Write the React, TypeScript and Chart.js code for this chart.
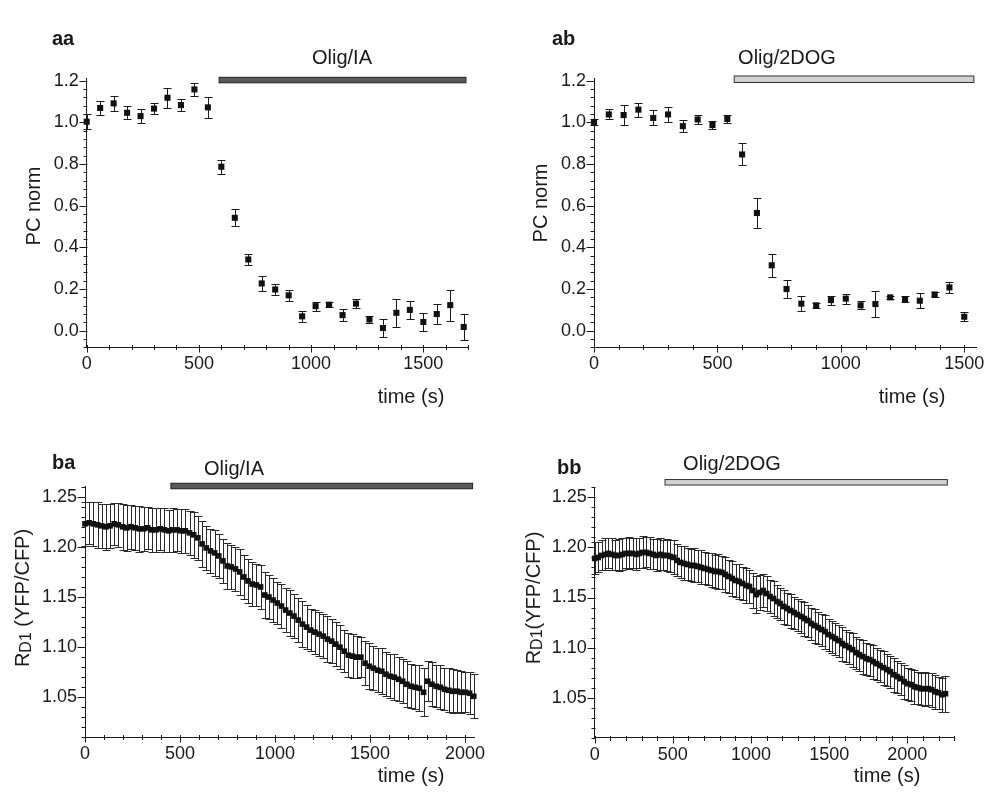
import React, { useEffect, useRef } from 'react';
import { Chart, registerables } from 'chart.js';

Chart.register(...registerables);

const FONT = '"Liberation Sans", Arial, Helvetica, sans-serif';
const INK = '#1a1a1a';

// ---------- Panel aa: PC norm, Olig/IA ----------
const AA_TIME = [0, 60, 120, 180, 240, 300, 360, 420, 480, 540, 600, 660, 720, 780, 840, 900, 960, 1020, 1080, 1140, 1200, 1260, 1320, 1380, 1440, 1500, 1560, 1620, 1680];
const AA_PC = [1.003, 1.069, 1.091, 1.046, 1.030, 1.066, 1.118, 1.083, 1.158, 1.072, 0.787, 0.542, 0.342, 0.227, 0.198, 0.170, 0.069, 0.118, 0.125, 0.075, 0.130, 0.054, 0.013, 0.086, 0.100, 0.042, 0.080, 0.123, 0.018];
const AA_ERR = [0.035, 0.032, 0.035, 0.032, 0.032, 0.028, 0.048, 0.030, 0.030, 0.050, 0.034, 0.040, 0.027, 0.035, 0.025, 0.027, 0.028, 0.021, 0.011, 0.028, 0.021, 0.016, 0.043, 0.067, 0.044, 0.042, 0.050, 0.074, 0.064];

// ---------- Panel ab: PC norm, Olig/2DOG ----------
const AB_TIME = [0, 60, 120, 180, 240, 300, 360, 420, 480, 540, 600, 660, 720, 780, 840, 900, 960, 1020, 1080, 1140, 1200, 1260, 1320, 1380, 1440, 1500];
const AB_PC = [1.002, 1.038, 1.035, 1.061, 1.021, 1.038, 0.982, 1.014, 0.987, 1.016, 0.846, 0.565, 0.314, 0.200, 0.130, 0.122, 0.147, 0.154, 0.122, 0.128, 0.160, 0.152, 0.144, 0.174, 0.208, 0.067];
const AB_ERR = [0.015, 0.024, 0.048, 0.034, 0.036, 0.038, 0.030, 0.021, 0.020, 0.018, 0.053, 0.074, 0.055, 0.042, 0.037, 0.012, 0.022, 0.024, 0.020, 0.061, 0.009, 0.013, 0.036, 0.010, 0.025, 0.021];

// ---------- Panel ba: RD1 ratio, Olig/IA ----------
const BA_TIME = [
  0, 22, 44, 66, 88, 110, 132, 154, 176, 198,
  220, 242, 264, 286, 308, 330, 352, 374, 396, 418,
  440, 462, 484, 506, 528, 550, 572, 594, 616, 638,
  660, 682, 704, 726, 748, 770, 792, 814, 836, 858,
  880, 902, 924, 946, 968, 990, 1012, 1034, 1056, 1078,
  1100, 1122, 1144, 1166, 1188, 1210, 1232, 1254, 1276, 1298,
  1320, 1342, 1364, 1386, 1408, 1430, 1452, 1474, 1496, 1518,
  1540, 1562, 1584, 1606, 1628, 1650, 1672, 1694, 1716, 1738,
  1760, 1782, 1804, 1826, 1848, 1870, 1892, 1914, 1936, 1958,
  1980, 2002, 2024, 2046,
];
const BA_RATIO = [
  1.223, 1.224, 1.223, 1.222, 1.221, 1.220, 1.221, 1.223, 1.222, 1.220,
  1.219, 1.220, 1.219, 1.218, 1.218, 1.219, 1.217, 1.217, 1.218, 1.217,
  1.216, 1.217, 1.217, 1.216, 1.216, 1.214, 1.212, 1.209, 1.203, 1.199,
  1.196, 1.194, 1.191, 1.186, 1.181, 1.180, 1.178, 1.175, 1.170, 1.166,
  1.163, 1.162, 1.160, 1.152, 1.150, 1.147, 1.144, 1.141, 1.137, 1.134,
  1.131, 1.127, 1.123, 1.120, 1.117, 1.115, 1.113, 1.111, 1.108, 1.106,
  1.103, 1.100, 1.096, 1.092, 1.091, 1.090, 1.090, 1.084, 1.081, 1.079,
  1.077, 1.076, 1.073, 1.071, 1.070, 1.068, 1.066, 1.063, 1.061, 1.060,
  1.059, 1.055, 1.066, 1.063, 1.061, 1.060, 1.058, 1.057, 1.056, 1.056,
  1.055, 1.055, 1.054, 1.051,
];
const BA_ERR = [
  0.022, 0.021, 0.022, 0.023, 0.022, 0.023, 0.022, 0.021, 0.022, 0.023,
  0.023, 0.022, 0.022, 0.023, 0.022, 0.021, 0.022, 0.022, 0.021, 0.022,
  0.021, 0.022, 0.021, 0.022, 0.022, 0.022, 0.023, 0.022, 0.023, 0.022,
  0.022, 0.023, 0.022, 0.022, 0.023, 0.022, 0.022, 0.023, 0.022, 0.022,
  0.022, 0.021, 0.022, 0.023, 0.022, 0.022, 0.021, 0.022, 0.022, 0.023,
  0.022, 0.022, 0.023, 0.022, 0.021, 0.022, 0.022, 0.022, 0.023, 0.022,
  0.022, 0.022, 0.021, 0.022, 0.022, 0.021, 0.020, 0.022, 0.023, 0.022,
  0.022, 0.023, 0.022, 0.022, 0.023, 0.022, 0.022, 0.023, 0.022, 0.022,
  0.023, 0.024, 0.020, 0.022, 0.021, 0.022, 0.021, 0.022, 0.022, 0.021,
  0.021, 0.020, 0.021, 0.022,
];

// ---------- Panel bb: RD1 ratio, Olig/2DOG ----------
const BB_TIME = [
  0, 22, 44, 66, 88, 110, 132, 154, 176, 198,
  220, 242, 264, 286, 308, 330, 352, 374, 396, 418,
  440, 462, 484, 506, 528, 550, 572, 594, 616, 638,
  660, 682, 704, 726, 748, 770, 792, 814, 836, 858,
  880, 902, 924, 946, 968, 990, 1012, 1034, 1056, 1078,
  1100, 1122, 1144, 1166, 1188, 1210, 1232, 1254, 1276, 1298,
  1320, 1342, 1364, 1386, 1408, 1430, 1452, 1474, 1496, 1518,
  1540, 1562, 1584, 1606, 1628, 1650, 1672, 1694, 1716, 1738,
  1760, 1782, 1804, 1826, 1848, 1870, 1892, 1914, 1936, 1958,
  1980, 2002, 2024, 2046, 2068, 2090, 2112, 2134, 2156, 2178,
  2200, 2222, 2244,
];
const BB_RATIO = [
  1.189, 1.190, 1.192, 1.193, 1.194, 1.193, 1.192, 1.192, 1.193, 1.194,
  1.194, 1.194, 1.193, 1.194, 1.195, 1.195, 1.194, 1.193, 1.192, 1.193,
  1.192, 1.192, 1.191, 1.190, 1.187, 1.185, 1.184, 1.183, 1.182, 1.182,
  1.181, 1.180, 1.179, 1.178, 1.177, 1.176, 1.176, 1.175, 1.173, 1.171,
  1.169, 1.167, 1.166, 1.164, 1.162, 1.161, 1.157, 1.153, 1.155, 1.157,
  1.154, 1.151, 1.149, 1.146, 1.144, 1.141, 1.139, 1.137, 1.135, 1.133,
  1.131, 1.129, 1.127, 1.124, 1.122, 1.120, 1.118, 1.116, 1.113, 1.111,
  1.109, 1.107, 1.104, 1.102, 1.100, 1.098, 1.095, 1.093, 1.091, 1.089,
  1.088, 1.086, 1.084, 1.082, 1.080, 1.078, 1.076, 1.073, 1.071, 1.069,
  1.066, 1.064, 1.063, 1.061, 1.060, 1.059, 1.059, 1.059, 1.058, 1.056,
  1.055, 1.053, 1.054,
];
const BB_ERR = [
  0.016, 0.015, 0.015, 0.016, 0.015, 0.016, 0.015, 0.016, 0.016, 0.015,
  0.016, 0.015, 0.016, 0.015, 0.016, 0.015, 0.016, 0.015, 0.016, 0.016,
  0.015, 0.016, 0.016, 0.017, 0.016, 0.016, 0.017, 0.016, 0.016, 0.017,
  0.016, 0.017, 0.016, 0.016, 0.017, 0.016, 0.017, 0.016, 0.017, 0.016,
  0.017, 0.016, 0.017, 0.016, 0.017, 0.016, 0.017, 0.018, 0.017, 0.016,
  0.017, 0.016, 0.017, 0.016, 0.016, 0.017, 0.016, 0.017, 0.016, 0.016,
  0.016, 0.017, 0.016, 0.016, 0.017, 0.016, 0.016, 0.017, 0.016, 0.016,
  0.016, 0.016, 0.017, 0.016, 0.016, 0.017, 0.016, 0.016, 0.017, 0.016,
  0.016, 0.017, 0.016, 0.016, 0.017, 0.016, 0.016, 0.017, 0.016, 0.016,
  0.017, 0.016, 0.016, 0.017, 0.016, 0.016, 0.017, 0.016, 0.017, 0.017,
  0.016, 0.017, 0.018,
];

// ---------- Tick definitions ----------
const X_MAJOR_LABELS = [0, 500, 1000, 1500, 2000];
const X_MINOR_STEP = 100;
const TOP_Y_MIN = -0.08;
const TOP_Y_MAX = 1.21;
const TOP_Y_MAJOR_STEP = 0.2;
const TOP_Y_MINOR_STEP = 0.04;
const BOT_Y_MIN = 1.01;
const BOT_Y_MAX = 1.26;
const BOT_Y_MAJOR_STEP = 0.05;
const BOT_Y_MINOR_STEP = 0.01;

function range(from: number, to: number, step: number): number[] {
  const out: number[] = [];
  const n = Math.round((to - from) / step);
  for (let i = 0; i <= n; i++) out.push(Math.round((from + i * step) * 1000) / 1000);
  return out;
}
function isMult(v: number, step: number) {
  const q = v / step;
  return Math.abs(q - Math.round(q)) < 1e-6;
}

type TextPart = { text: string; size: number; dy: number };
type PanelCfg = {
  box: { left: number; top: number; width: number; height: number };
  area: { l: number; t: number; r: number; b: number };
  xMax: number;
  xTickMax: number;
  yMin: number;
  yMax: number;
  yMinorStep: number;
  yMajorStep: number;
  yTickTop: number;
  yDecimals: number;
  times: number[];
  values: number[];
  errors: number[];
  pointRadius: number;
  capHalf: number;
  errColor: string;
  bar: { from: number; to: number; y: number; h: number; fill: string; stroke: string };
  barLabel: { text: string; cx: number; cy: number };
  letter: { text: string; x: number; y: number };
  xTitle: { text: string; cx: number; cy: number };
  yTitle: { parts: TextPart[]; cx: number; cy: number };
};

const PANELS: PanelCfg[] = [
  {
    box: { left: 0, top: 0, width: 497, height: 420 },
    area: { l: 86.7, t: 78.6, r: 468.2, b: 347.4 },
    xMax: 1700, xTickMax: 1700,
    yMin: TOP_Y_MIN, yMax: TOP_Y_MAX, yMinorStep: TOP_Y_MINOR_STEP, yMajorStep: TOP_Y_MAJOR_STEP, yTickTop: 1.2, yDecimals: 1,
    times: AA_TIME, values: AA_PC, errors: AA_ERR, pointRadius: 4.3, capHalf: 4, errColor: '#1a1a1a',
    bar: { from: 590, to: 1690, y: 1.203, h: 5.5, fill: '#5a5a5a', stroke: '#222' },
    barLabel: { text: 'Olig/IA', cx: 342, cy: 58 },
    letter: { text: 'aa', x: 52, y: 45 },
    xTitle: { text: 'time (s)', cx: 411, cy: 397 },
    yTitle: { parts: [{ text: 'PC norm', size: 20, dy: 0 }], cx: 34, cy: 206 },
  },
  {
    box: { left: 497, top: 0, width: 497, height: 420 },
    area: { l: 594, t: 78.6, r: 976.6, b: 347.4 },
    xMax: 1550, xTickMax: 1500,
    yMin: TOP_Y_MIN, yMax: TOP_Y_MAX, yMinorStep: TOP_Y_MINOR_STEP, yMajorStep: TOP_Y_MAJOR_STEP, yTickTop: 1.2, yDecimals: 1,
    times: AB_TIME, values: AB_PC, errors: AB_ERR, pointRadius: 4.3, capHalf: 4, errColor: '#1a1a1a',
    bar: { from: 568, to: 1539, y: 1.207, h: 6.5, fill: '#d2d2d2', stroke: '#333' },
    barLabel: { text: 'Olig/2DOG', cx: 787, cy: 58 },
    letter: { text: 'ab', x: 552, y: 45 },
    xTitle: { text: 'time (s)', cx: 912, cy: 397 },
    yTitle: { parts: [{ text: 'PC norm', size: 20, dy: 0 }], cx: 541, cy: 203 },
  },
  {
    box: { left: 0, top: 420, width: 497, height: 372 },
    area: { l: 85, t: 486.7, r: 474.5, b: 737.4 },
    xMax: 2050, xTickMax: 2000,
    yMin: BOT_Y_MIN, yMax: BOT_Y_MAX, yMinorStep: BOT_Y_MINOR_STEP, yMajorStep: BOT_Y_MAJOR_STEP, yTickTop: 1.26, yDecimals: 2,
    times: BA_TIME, values: BA_RATIO, errors: BA_ERR, pointRadius: 4, capHalf: 4, errColor: '#2a2a2a',
    bar: { from: 452, to: 2040, y: 1.2607, h: 5.5, fill: '#5a5a5a', stroke: '#222' },
    barLabel: { text: 'Olig/IA', cx: 234, cy: 469 },
    letter: { text: 'ba', x: 52, y: 469 },
    xTitle: { text: 'time (s)', cx: 411, cy: 776 },
    yTitle: {
      parts: [
        { text: 'R', size: 20, dy: 0 },
        { text: 'D1', size: 16, dy: 4 },
        { text: ' (YFP/CFP)', size: 20, dy: 0 },
      ],
      cx: 23, cy: 598,
    },
  },
  {
    box: { left: 497, top: 420, width: 497, height: 372 },
    area: { l: 594.7, t: 487.3, r: 954.2, b: 737.8 },
    xMax: 2300, xTickMax: 2300,
    yMin: BOT_Y_MIN, yMax: BOT_Y_MAX, yMinorStep: BOT_Y_MINOR_STEP, yMajorStep: BOT_Y_MAJOR_STEP, yTickTop: 1.26, yDecimals: 2,
    times: BB_TIME, values: BB_RATIO, errors: BB_ERR, pointRadius: 4, capHalf: 4, errColor: '#2a2a2a',
    bar: { from: 450, to: 2256, y: 1.265, h: 5.5, fill: '#d2d2d2', stroke: '#333' },
    barLabel: { text: 'Olig/2DOG', cx: 732, cy: 464 },
    letter: { text: 'bb', x: 557, y: 474 },
    xTitle: { text: 'time (s)', cx: 887, cy: 776 },
    yTitle: {
      parts: [
        { text: 'R', size: 20, dy: 0 },
        { text: 'D1', size: 16, dy: 4 },
        { text: '(YFP/CFP)', size: 20, dy: 0 },
      ],
      cx: 534, cy: 598,
    },
  },
];

const X_AXIS_H = 30;
const TICK_FONT = 18;

function buildChart(canvas: HTMLCanvasElement, cfg: PanelCfg) {
  const { box, area } = cfg;
  const ox = box.left;
  const oy = box.top;
  const xTicks = range(0, cfg.xTickMax, X_MINOR_STEP);
  const yTicks = range(cfg.yMin, cfg.yTickTop, cfg.yMinorStep);
  const points = cfg.times.map((t, i) => ({ x: t, y: cfg.values[i] }));

  const errorBars = {
    id: 'errorBars',
    beforeDatasetsDraw(chart: any) {
      const { ctx } = chart;
      const xs = chart.scales.x;
      const ys = chart.scales.y;
      ctx.save();
      ctx.strokeStyle = cfg.errColor;
      ctx.lineWidth = 1;
      ctx.beginPath();
      points.forEach((p, i) => {
        const e = cfg.errors[i];
        const x = Math.round(xs.getPixelForValue(p.x)) + 0.5;
        const y1 = Math.round(ys.getPixelForValue(p.y + e)) + 0.5;
        const y2 = Math.round(ys.getPixelForValue(p.y - e)) + 0.5;
        ctx.moveTo(x, y1);
        ctx.lineTo(x, y2);
        ctx.moveTo(x - cfg.capHalf, y1);
        ctx.lineTo(x + cfg.capHalf, y1);
        ctx.moveTo(x - cfg.capHalf, y2);
        ctx.lineTo(x + cfg.capHalf, y2);
      });
      ctx.stroke();
      ctx.restore();
    },
  };

  const decorations = {
    id: 'decorations',
    afterDraw(chart: any) {
      const { ctx, chartArea } = chart;
      const xs = chart.scales.x;
      const ys = chart.scales.y;
      ctx.save();
      // tick marks
      ctx.strokeStyle = INK;
      ctx.lineWidth = 1;
      ctx.beginPath();
      const bottom = Math.round(chartArea.bottom) + 0.5;
      const left = Math.round(chartArea.left) + 0.5;
      xs.ticks.forEach((t: any) => {
        const px = Math.round(xs.getPixelForValue(t.value)) + 0.5;
        const major = isMult(t.value, 500);
        ctx.moveTo(px, bottom - 2.5);
        ctx.lineTo(px, bottom + (major ? 5 : 2.5));
      });
      ys.ticks.forEach((t: any) => {
        const py = Math.round(ys.getPixelForValue(t.value)) + 0.5;
        const major = isMult(t.value, cfg.yMajorStep);
        ctx.moveTo(left - (major ? 8 : 4), py);
        ctx.lineTo(left, py);
      });
      ctx.stroke();

      // treatment bar
      const b = cfg.bar;
      const bx0 = xs.getPixelForValue(b.from);
      const bx1 = xs.getPixelForValue(b.to);
      const by = ys.getPixelForValue(b.y);
      ctx.fillStyle = b.fill;
      ctx.fillRect(bx0, by - b.h / 2, bx1 - bx0, b.h);
      ctx.strokeStyle = b.stroke;
      ctx.lineWidth = 1;
      ctx.strokeRect(bx0, by - b.h / 2, bx1 - bx0, b.h);

      ctx.fillStyle = INK;
      ctx.textBaseline = 'middle';
      // bar label
      ctx.font = `20px ${FONT}`;
      ctx.textAlign = 'center';
      ctx.fillText(cfg.barLabel.text, cfg.barLabel.cx - ox, cfg.barLabel.cy - oy);
      // x title
      ctx.fillText(cfg.xTitle.text, cfg.xTitle.cx - ox, cfg.xTitle.cy - oy);
      // panel letter
      ctx.font = `bold 20px ${FONT}`;
      ctx.textAlign = 'left';
      ctx.textBaseline = 'alphabetic';
      ctx.fillText(cfg.letter.text, cfg.letter.x - ox, cfg.letter.y - oy);
      // y title (rotated, with subscript)
      ctx.translate(cfg.yTitle.cx - ox, cfg.yTitle.cy - oy);
      ctx.rotate(-Math.PI / 2);
      ctx.textBaseline = 'middle';
      ctx.textAlign = 'left';
      let total = 0;
      const widths = cfg.yTitle.parts.map((p) => {
        ctx.font = `${p.size}px ${FONT}`;
        const w = ctx.measureText(p.text).width;
        total += w;
        return w;
      });
      let cx = -total / 2;
      cfg.yTitle.parts.forEach((p, i) => {
        ctx.font = `${p.size}px ${FONT}`;
        ctx.fillText(p.text, cx, p.dy);
        cx += widths[i];
      });
      ctx.restore();
    },
  };

  return new Chart(canvas, {
    type: 'scatter',
    data: {
      datasets: [
        {
          data: points,
          pointStyle: 'rect',
          pointRadius: cfg.pointRadius,
          pointBackgroundColor: '#111',
          pointBorderColor: '#111',
          pointBorderWidth: 0,
          showLine: false,
          clip: false as any,
        },
      ],
    },
    options: {
      responsive: false,
      animation: false,
      events: [],
      layout: {
        padding: {
          left: 0,
          top: area.t - oy,
          right: ox + box.width - area.r,
          bottom: oy + box.height - area.b - X_AXIS_H,
        },
      },
      plugins: { legend: { display: false }, tooltip: { enabled: false } },
      scales: {
        x: {
          type: 'linear',
          min: 0,
          max: cfg.xMax,
          afterBuildTicks: (s: any) => {
            s.ticks = xTicks.map((v) => ({ value: v }));
          },
          afterFit: (s: any) => {
            s.height = X_AXIS_H;
          },
          grid: { display: false, drawTicks: false },
          border: { display: true, color: INK, width: 1 },
          ticks: {
            autoSkip: false,
            maxRotation: 0,
            padding: 6,
            color: INK,
            font: { family: FONT, size: TICK_FONT },
            callback: (v: any) => (X_MAJOR_LABELS.includes(Number(v)) ? String(v) : ''),
          },
        },
        y: {
          type: 'linear',
          min: cfg.yMin,
          max: cfg.yMax,
          afterBuildTicks: (s: any) => {
            s.ticks = yTicks.map((v) => ({ value: v }));
          },
          afterFit: (s: any) => {
            s.width = area.l - ox;
          },
          grid: { display: false, drawTicks: false },
          border: { display: true, color: INK, width: 1 },
          ticks: {
            autoSkip: false,
            padding: 8,
            color: INK,
            font: { family: FONT, size: TICK_FONT },
            callback: (v: any) => (isMult(Number(v), cfg.yMajorStep) ? Number(v).toFixed(cfg.yDecimals) : ''),
          },
        },
      },
    },
    plugins: [errorBars, decorations],
  } as any);
}

function Panel({ cfg }: { cfg: PanelCfg }) {
  const ref = useRef<HTMLCanvasElement>(null);
  useEffect(() => {
    if (!ref.current) return;
    const chart = buildChart(ref.current, cfg);
    return () => chart.destroy();
  }, [cfg]);
  const { box } = cfg;
  return (
    <canvas
      ref={ref}
      width={box.width}
      height={box.height}
      style={{ position: 'absolute', left: box.left, top: box.top, width: box.width, height: box.height }}
    />
  );
}

export default function App() {
  return (
    <div style={{ position: 'absolute', left: 0, top: 0, width: 994, height: 792, background: '#fff' }}>
      {PANELS.map((p, i) => (
        <Panel key={i} cfg={p} />
      ))}
    </div>
  );
}
